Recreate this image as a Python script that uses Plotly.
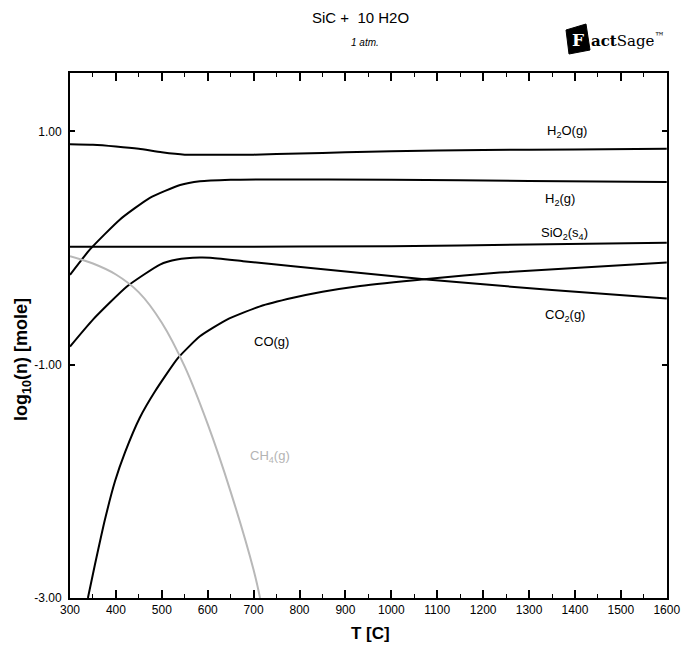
import plotly.graph_objects as go

# ---- data ----
T_H2O = [300, 350, 400, 450, 500, 550, 600, 700, 800, 900, 1000, 1200, 1400, 1600]
v_H2O = [0.89, 0.885, 0.87, 0.85, 0.82, 0.80, 0.80, 0.80, 0.81, 0.82, 0.83, 0.84, 0.845, 0.85]

T_H2 = [300, 344, 409, 474, 540, 583, 650, 720, 1000, 1300, 1600]
v_H2 = [-0.23, -0.01, 0.245, 0.43, 0.54, 0.572, 0.585, 0.588, 0.585, 0.575, 0.565]

T_SiO2 = [300, 600, 1000, 1300, 1600]
v_SiO2 = [0.01, 0.01, 0.015, 0.03, 0.045]

T_CH4 = [300, 350, 400, 450, 500, 550, 600, 650, 700, 714]
v_CH4 = [-0.07, -0.133, -0.227, -0.38, -0.64, -1.017, -1.51, -2.09, -2.76, -3.0]

T_CO2 = [300, 350, 424, 496, 533, 583, 605, 677, 786, 1077, 1350, 1600]
v_CO2 = [-0.845, -0.614, -0.33, -0.142, -0.099, -0.082, -0.084, -0.113, -0.156, -0.27, -0.36, -0.433]

T_CO = [339, 354, 376, 398, 420, 452, 485, 535, 583, 642, 714, 786, 850, 932, 1077, 1236, 1600]
v_CO = [-3.0, -2.72, -2.33, -2.0, -1.75, -1.455, -1.23, -0.944, -0.757, -0.614, -0.5, -0.427, -0.375, -0.325, -0.265, -0.21, -0.124]

x_ticks = [300, 400, 500, 600, 700, 800, 900, 1000, 1100, 1200, 1300, 1400, 1500, 1600]
y_ticks = [1.0, -1.0, -3.0]
y_ticklabels = ["1.00", "-1.00", "-3.00"]

labels = [
    ("H<sub>2</sub>O(g)", 1383, 1.0, "black"),
    ("H<sub>2</sub>(g)", 1367, 0.416, "black"),
    ("SiO<sub>2</sub>(s<sub>4</sub>)", 1378, 0.124, "black"),
    ("CO<sub>2</sub>(g)", 1378, -0.58, "black"),
    ("CO(g)", 739, -0.80, "black"),
    ("CH<sub>4</sub>(g)", 735, -1.79, "#b4b4b4"),
]

FONT = "Arial, Liberation Sans, sans-serif"

W, H = 681, 651
L, R, Tm, B = 70, 14, 73, 53
pw, ph = W - L - R, H - Tm - B


def px(xp):
    return (xp - L) / pw


def py(yp):
    return (H - B - yp) / ph


fig = go.Figure()
for T, v in [(T_H2O, v_H2O), (T_H2, v_H2), (T_SiO2, v_SiO2), (T_CO2, v_CO2), (T_CO, v_CO)]:
    fig.add_trace(go.Scatter(x=T, y=v, mode="lines",
                             line=dict(color="black", width=2, shape="spline", smoothing=0.5),
                             showlegend=False, hoverinfo="skip"))
fig.add_trace(go.Scatter(x=T_CH4, y=v_CH4, mode="lines",
                         line=dict(color="#b8b8b8", width=2, shape="spline", smoothing=1.0),
                         showlegend=False, hoverinfo="skip"))

for txt, x, y, c in labels:
    fig.add_annotation(x=x, y=y, text=txt, showarrow=False, xref="x", yref="y",
                       xanchor="center", yanchor="middle",
                       font=dict(family=FONT, size=13, color=c))


def pann(x, y, text, size, color="black", family=FONT, xanchor="center", angle=0):
    fig.add_annotation(x=px(x), y=py(y), xref="paper", yref="paper", text=text, showarrow=False,
                       xanchor=xanchor, yanchor="middle", textangle=angle,
                       font=dict(family=family, size=size, color=color))


# titles
pann(360, 18, "SiC +  10 H2O", 15)
pann(365, 43, "<i>1 atm.</i>", 10)

# axis titles
pann(370, 633, "<b>T [C]</b>", 17)
pann(22, 360, "<b>log<sub>10</sub>(n) [mole]</b>", 18, angle=-90)

# FactSage logo
fig.add_shape(type="path", xref="paper", yref="paper",
              path=f"M {px(566)} {py(30)} L {px(586)} {py(24)} L {px(590)} {py(50)} L {px(569)} {py(54)} Z",
              fillcolor="black", line=dict(color="black", width=1))
pann(578, 40, "<b>F</b>", 17, color="white", family="DejaVu Serif, serif")
pann(589, 40, "<b>act</b>Sage<sup>™</sup>", 15, family="DejaVu Serif, serif", xanchor="left")

fig.update_layout(
    width=W, height=H,
    margin=dict(l=L, r=R, t=Tm, b=B, autoexpand=False),
    paper_bgcolor="white", plot_bgcolor="white",
    xaxis=dict(range=[300, 1600.5], tickvals=x_ticks, ticks="inside", ticklen=8, tickwidth=1.5,
               tickcolor="black", showline=True, linecolor="black", linewidth=2, mirror="ticks",
               showgrid=False, zeroline=False, automargin=False,
               minor=dict(dtick=50, ticks="inside", ticklen=4, tickwidth=1.2, tickcolor="black"),
               tickfont=dict(family=FONT, size=12, color="black")),
    yaxis=dict(range=[-3.0, 1.5], tickvals=y_ticks, ticktext=y_ticklabels, ticks="inside", ticklen=5,
               tickwidth=1.5, tickcolor="black", showline=True, linecolor="black", linewidth=2,
               mirror="ticks", showgrid=False, zeroline=False, ticklabelstandoff=4, automargin=False,
               tickfont=dict(family=FONT, size=12, color="black")),
)

fig.write_html("out.html")
